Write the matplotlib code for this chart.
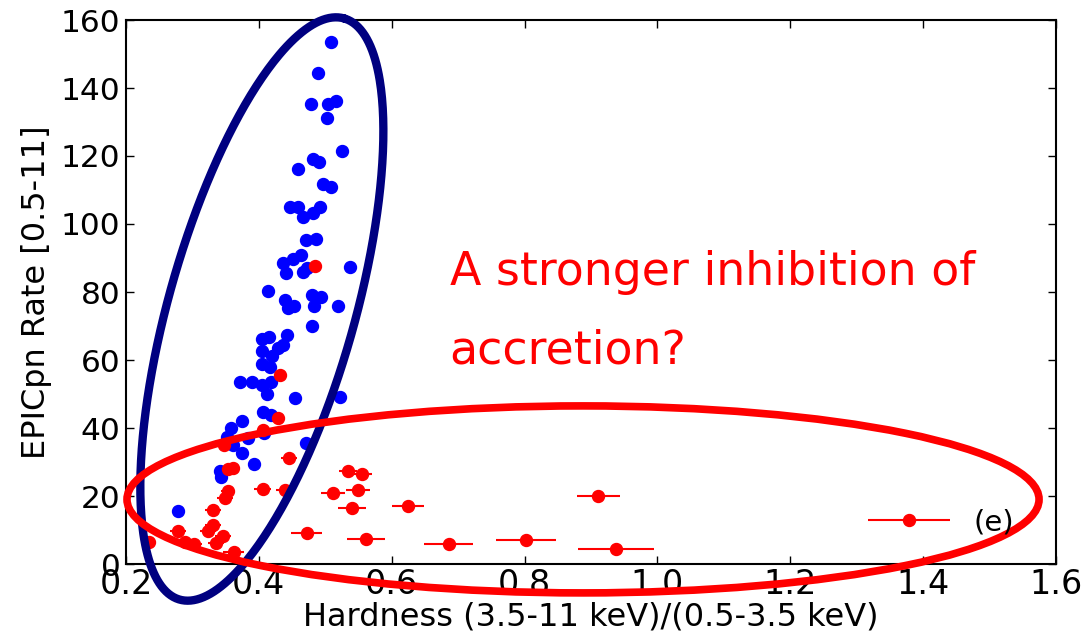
import numpy as np
import matplotlib
matplotlib.use('Agg')
import matplotlib.pyplot as plt
from matplotlib.patches import Ellipse
from matplotlib.legend_handler import HandlerErrorbar
from matplotlib.container import ErrorbarContainer

# ---------------- data ----------------
blue_hardness = [0.508, 0.489, 0.478, 0.504, 0.516, 0.502, 0.525, 0.481, 0.490, 0.459,
                 0.496, 0.508, 0.447, 0.459, 0.492, 0.481, 0.466, 0.471, 0.486, 0.463,
                 0.451, 0.436, 0.441, 0.466, 0.472, 0.537, 0.414, 0.439, 0.453, 0.444,
                 0.480, 0.493, 0.483, 0.519, 0.480, 0.405, 0.415, 0.442, 0.436, 0.429,
                 0.405, 0.420, 0.405, 0.417, 0.371, 0.389, 0.405, 0.418, 0.412, 0.454,
                 0.522, 0.406, 0.418, 0.374, 0.358, 0.408, 0.383, 0.352, 0.361, 0.374,
                 0.471, 0.392, 0.341, 0.343, 0.278]
blue_rate = [153.5, 144.4, 135.3, 135.3, 136.2, 131.2, 121.5, 119.1, 118.2, 116.2,
             111.8, 110.9, 105.0, 105.0, 105.0, 103.2, 102.1, 95.3, 95.6, 90.9,
             89.7, 88.5, 85.6, 85.9, 87.1, 87.4, 80.3, 77.6, 75.9, 75.3,
             79.1, 78.5, 75.9, 75.9, 70.0, 66.2, 66.8, 67.4, 64.4, 63.5,
             62.6, 61.2, 58.8, 57.9, 53.5, 53.5, 52.6, 53.5, 50.0, 48.8,
             49.1, 44.7, 43.8, 42.1, 40.0, 38.5, 37.1, 37.4, 35.0, 32.6,
             35.6, 29.4, 27.4, 25.6, 15.6]
blue_xerr = [0.006] * len(blue_hardness)

red_hardness = [0.484, 0.432, 0.429, 0.406, 0.347, 0.445, 0.353, 0.361, 0.534, 0.555,
                0.406, 0.439, 0.511, 0.549, 0.353, 0.349, 0.540, 0.624, 0.911, 0.331,
                0.331, 0.323, 0.278, 0.346, 0.335, 0.362, 0.302, 0.289, 0.235, 0.472,
                0.561, 0.686, 0.802, 0.938]
red_rate = [87.6, 55.6, 42.9, 39.4, 35.0, 31.2, 27.9, 28.2, 27.4, 26.5,
            22.1, 21.8, 20.9, 21.8, 21.5, 19.4, 16.5, 17.1, 20.0, 15.9,
            11.5, 9.7, 9.7, 8.2, 6.2, 3.5, 5.9, 6.5, 6.5, 9.1,
            7.4, 5.9, 7.1, 4.4]
red_xerr = [0.005, 0.005, 0.008, 0.008, 0.008, 0.012, 0.010, 0.010, 0.014, 0.015,
            0.013, 0.013, 0.018, 0.018, 0.010, 0.012, 0.021, 0.024, 0.032, 0.012,
            0.012, 0.012, 0.012, 0.012, 0.012, 0.016, 0.012, 0.012, 0.010, 0.023,
            0.029, 0.037, 0.045, 0.057]

x_ticks = [0.2, 0.4, 0.6, 0.8, 1.0, 1.2, 1.4, 1.6]
y_ticks = [0, 20, 40, 60, 80, 100, 120, 140, 160]

# ---------------- figure ----------------
W, H = 1090, 633
fig = plt.figure(figsize=(W / 100, H / 100), dpi=100)
ax = fig.add_axes([126 / W, (H - 564) / H, 930 / W, 544 / H])
ax.set_xlim(0.2, 1.6)
ax.set_ylim(0, 160)

ax.errorbar(blue_hardness, blue_rate, xerr=blue_xerr, fmt='o', color='#0000ff',
            ecolor='#0000ff', ms=8.6, mec='#0000ff', elinewidth=1.5, capsize=0, zorder=3)
ax.errorbar(red_hardness, red_rate, xerr=red_xerr, fmt='o', color='#ff0000',
            ecolor='#ff0000', ms=8.6, mec='#ff0000', elinewidth=1.5, capsize=0,
            zorder=3, label='(e)')

# blue (navy) tilted ellipse - defined in pixel space around a data centre
c_px = ax.transData.transform((0.4045, 75.0))
a_px, b_px, ang = 302.0, 93.0, np.deg2rad(74.2)
t = np.linspace(0, 2 * np.pi, 400)
ex = c_px[0] + a_px * np.cos(t) * np.cos(ang) - b_px * np.sin(t) * np.sin(ang)
ey = c_px[1] + a_px * np.cos(t) * np.sin(ang) + b_px * np.sin(t) * np.cos(ang)
ed = ax.transData.inverted().transform(np.column_stack([ex, ey]))
ax.plot(ed[:, 0], ed[:, 1], color='#000080', lw=6, clip_on=False, zorder=4,
        solid_capstyle='round')

# red ellipse
ax.add_patch(Ellipse((0.888, 19.0), 1.373, 55.0, fill=False, ec='#ff0000', lw=5.5,
                     clip_on=False, zorder=5))

# annotation text
ax.text(0.687, 82.0, 'A stronger inhibition of', color='#ff0000', fontsize=33,
        ha='left', va='baseline')
ax.text(0.687, 59.0, 'accretion?', color='#ff0000', fontsize=33,
        ha='left', va='baseline')

ax.set_xticks(x_ticks)
ax.set_yticks(y_ticks)
ax.set_xticklabels([f'{v:.1f}' for v in x_ticks])
ax.set_yticklabels([str(v) for v in y_ticks])
ax.tick_params(direction='in', length=6, width=1, top=True, right=True)
ax.tick_params(axis='x', labelsize=24, pad=3)
ax.tick_params(axis='y', labelsize=22.5, pad=4)
for s in ax.spines.values():
    s.set_linewidth(1.5)

ax.set_xlabel('Hardness (3.5-11 keV)/(0.5-3.5 keV)', fontsize=23, labelpad=0)
ax.set_ylabel('EPICpn Rate [0.5-11]', fontsize=23, labelpad=6)

leg = ax.legend(handler_map={ErrorbarContainer: HandlerErrorbar(xerr_size=1.4)},
                numpoints=1, handlelength=2.8, handletextpad=0.8, frameon=False,
                fontsize=21, loc='lower right', bbox_to_anchor=(0.967, 0.029),
                borderaxespad=0)

fig.savefig('out.png', dpi=100)
